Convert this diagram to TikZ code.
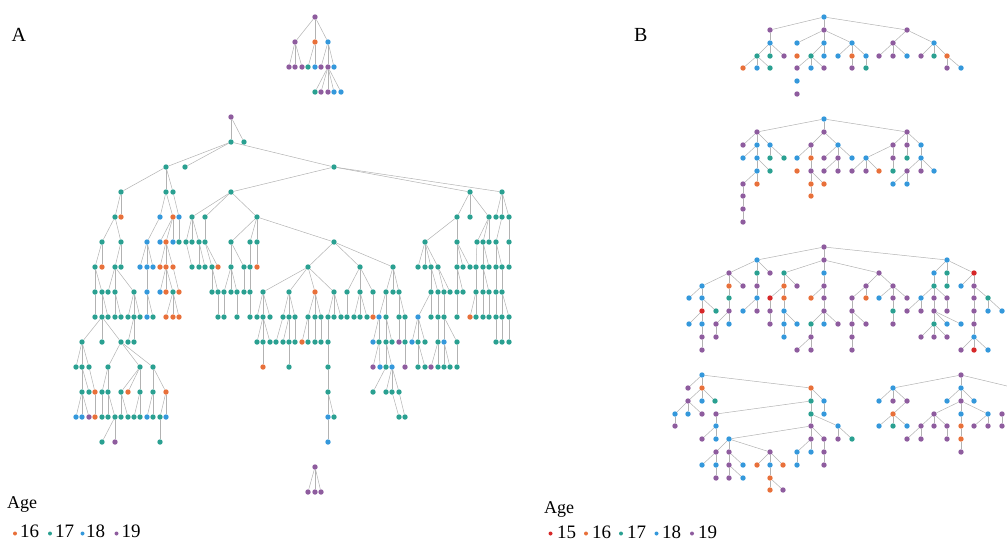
\documentclass[tikz,border=0pt]{standalone}
\usepackage{fontspec}
\usepackage{etoolbox}
\setmainfont{Liberation Serif}
\definecolor{cO}{RGB}{232,112,58}
\definecolor{cT}{RGB}{42,160,145}
\definecolor{cB}{RGB}{52,152,219}
\definecolor{cP}{RGB}{142,92,158}
\definecolor{cR}{RGB}{214,39,40}
\pgfdeclarelayer{bg}
\pgfsetlayers{bg,main}
\tikzset{
  dot/.style={circle,draw=none,minimum size=5.4pt,inner sep=0pt},
  edge/.style={draw=gray!60,line width=0.5pt},
  lg/.style={circle,draw=none,minimum size=4pt,inner sep=0pt},
  lbl/.style={anchor=base west,inner sep=0pt,font=\fontsize{19}{19}\selectfont},
  panel/.style={anchor=base west,inner sep=0pt,font=\fontsize{20}{20}\selectfont}
}
\gdef\edgelist{}
\newcommand\rn[4]{\node[dot,fill=#4] (#1) at (#2,#3) {};}
\newcommand\nd[5]{\node[dot,fill=#4] (#1) at (#2,#3) {};\gappto\edgelist{\draw[edge] (#5) -- (#1);}}
\begin{document}
\begin{tikzpicture}[x=1pt,y=-1pt]
\useasboundingbox (0,0) rectangle (1007,542);
% ---------- labels
\node[panel] (labA) at (11.5,41.5) {A};
\node[panel] (labB) at (634,41.5) {B};
\node[lbl,font=\fontsize{18}{18}\selectfont] (ageA) at (7,508) {Age};
\node[lg,fill=cO] (lA1) at (15,533.5) {}; \node[lbl] (tA1) at (20,537) {16};
\node[lg,fill=cT] (lA2) at (50,533.5) {}; \node[lbl] (tA2) at (55,537) {17};
\node[lg,fill=cB] (lA3) at (82.5,533.5) {}; \node[lbl] (tA3) at (86,537) {18};
\node[lg,fill=cP] (lA4) at (116.5,533.5) {}; \node[lbl] (tA4) at (121.5,537) {19};
\node[lbl,font=\fontsize{18}{18}\selectfont] (ageB) at (544,513) {Age};
\node[lg,fill=cR] (lB0) at (550.5,533.5) {}; \node[lbl] (tB0) at (557,538) {15};
\node[lg,fill=cO] (lB1) at (586,533.5) {}; \node[lbl] (tB1) at (592,538) {16};
\node[lg,fill=cT] (lB2) at (621,533.5) {}; \node[lbl] (tB2) at (627,538) {17};
\node[lg,fill=cB] (lB3) at (656.5,533.5) {}; \node[lbl] (tB3) at (662,538) {18};
\node[lg,fill=cP] (lB4) at (692,533.5) {}; \node[lbl] (tB4) at (698,538) {19};
% ---------- panel A: top small tree
\rn{t0}{315}{17}{cP}
\nd{t1a}{295}{42}{cP}{t0}\nd{t1b}{315}{42}{cO}{t0}\nd{t1c}{328}{42}{cB}{t0}
\nd{t2a}{289}{67}{cP}{t1a}\nd{t2b}{295}{67}{cP}{t1a}\nd{t2c}{302}{67}{cP}{t1a}
\nd{t2d}{308}{67}{cT}{t1b}\nd{t2e}{315}{67}{cB}{t1b}
\nd{t2f}{321}{67}{cP}{t1c}\nd{t2g}{328}{67}{cP}{t1c}\nd{t2h}{334}{67}{cB}{t1c}
\nd{t3a}{315}{92}{cT}{t2g}\nd{t3b}{321}{92}{cP}{t2g}\nd{t3c}{328}{92}{cP}{t2g}\nd{t3d}{334}{92}{cB}{t2g}\nd{t3e}{341}{92}{cB}{t2g}
% ---------- panel A: big tree
\rn{a0}{231}{117}{cP}
\nd{a1x231}{231}{142}{cT}{a0}\nd{a1x244}{244}{142}{cT}{a0}
\nd{a2x166}{166}{167}{cT}{a1x231}\nd{a2x185}{185}{167}{cT}{a1x231}\nd{a2x334}{334}{167}{cT}{a1x231}
\nd{a3x121}{121}{192}{cT}{a2x166}\nd{a3x166}{166}{192}{cT}{a2x166}\nd{a3x173}{173}{192}{cT}{a2x166}
\nd{a3x231}{231}{192}{cT}{a2x334}\nd{a3x470}{470}{192}{cT}{a2x334}\nd{a3x502}{502}{192}{cT}{a2x334}
% L4
\nd{a4x115}{115}{217}{cT}{a3x121}\nd{a4x121}{121}{217}{cO}{a3x121}
\nd{a4x160}{160}{217}{cB}{a3x166}\nd{a4x173}{173}{217}{cO}{a3x166}\nd{a4x179}{179}{217}{cB}{a3x173}
\nd{a4x192}{192}{217}{cT}{a3x231}\nd{a4x205}{205}{217}{cT}{a3x231}\nd{a4x257}{257}{217}{cT}{a3x231}
\nd{a4x457}{457}{217}{cT}{a3x470}\nd{a4x470}{470}{217}{cT}{a3x470}\nd{a4x489}{489}{217}{cT}{a3x470}
\nd{a4x496}{496}{217}{cT}{a3x502}\nd{a4x502}{502}{217}{cT}{a3x502}\nd{a4x509}{509}{217}{cT}{a3x502}
% L5
\nd{a5x102}{102}{242}{cT}{a4x115}\nd{a5x121}{121}{242}{cT}{a4x115}
\nd{a5x147}{147}{242}{cB}{a4x160}\nd{a5x160}{160}{242}{cB}{a4x173}\nd{a5x166}{166}{242}{cO}{a4x173}\nd{a5x173}{173}{242}{cB}{a4x173}
\nd{a5x179}{179}{242}{cT}{a4x179}\nd{a5x186}{186}{242}{cT}{a4x192}\nd{a5x192}{192}{242}{cT}{a4x192}\nd{a5x199}{199}{242}{cT}{a4x192}\nd{a5x205}{205}{242}{cT}{a4x205}
\nd{a5x231}{231}{242}{cT}{a4x257}\nd{a5x250}{250}{242}{cT}{a4x257}\nd{a5x257}{257}{242}{cT}{a4x257}\nd{a5x334}{334}{242}{cT}{a4x257}
\nd{a5x425}{425}{242}{cT}{a4x457}\nd{a5x457}{457}{242}{cT}{a4x457}\nd{a5x477}{477}{242}{cT}{a4x489}\nd{a5x483}{483}{242}{cT}{a4x489}\nd{a5x489}{489}{242}{cT}{a4x489}
\nd{a5x496}{496}{242}{cT}{a4x502}\nd{a5x509}{509}{242}{cT}{a4x509}
% L6
\nd{a6x95}{95}{267}{cT}{a5x102}\nd{a6x102}{102}{267}{cO}{a5x102}\nd{a6x115}{115}{267}{cT}{a5x121}\nd{a6x121}{121}{267}{cT}{a5x121}
\nd{a6x140}{140}{267}{cB}{a5x147}\nd{a6x147}{147}{267}{cB}{a5x147}\nd{a6x153}{153}{267}{cB}{a5x147}
\nd{a6x160}{160}{267}{cO}{a5x166}\nd{a6x166}{166}{267}{cO}{a5x166}\nd{a6x173}{173}{267}{cO}{a5x166}
\nd{a6x192}{192}{267}{cT}{a5x186}\nd{a6x199}{199}{267}{cT}{a5x199}\nd{a6x205}{205}{267}{cT}{a5x199}\nd{a6x212}{212}{267}{cT}{a5x205}\nd{a6x218}{218}{267}{cO}{a5x205}
\nd{a6x231}{231}{267}{cT}{a5x231}\nd{a6x244}{244}{267}{cT}{a5x231}\nd{a6x250}{250}{267}{cT}{a5x250}\nd{a6x257}{257}{267}{cO}{a5x257}
\nd{a6x308}{308}{267}{cT}{a5x334}\nd{a6x360}{360}{267}{cT}{a5x334}\nd{a6x393}{393}{267}{cT}{a5x334}
\nd{a6x418}{418}{267}{cT}{a5x425}\nd{a6x425}{425}{267}{cT}{a5x425}\nd{a6x431}{431}{267}{cT}{a5x425}\nd{a6x438}{438}{267}{cT}{a5x425}
\nd{a6x457}{457}{267}{cT}{a5x457}\nd{a6x463}{463}{267}{cT}{a5x457}\nd{a6x470}{470}{267}{cT}{a5x457}
\nd{a6x476}{476}{267}{cT}{a5x477}\nd{a6x483}{483}{267}{cT}{a5x483}\nd{a6x489}{489}{267}{cT}{a5x483}
\nd{a6x496}{496}{267}{cT}{a5x496}\nd{a6x502}{502}{267}{cT}{a5x496}\nd{a6x509}{509}{267}{cT}{a5x509}
% L7
\nd{a7x95}{95}{292}{cT}{a6x95}\nd{a7x102}{102}{292}{cT}{a6x95}\nd{a7x108}{108}{292}{cT}{a6x115}\nd{a7x115}{115}{292}{cT}{a6x115}\nd{a7x134}{134}{292}{cT}{a6x115}
\nd{a7x147}{147}{292}{cB}{a6x147}\nd{a7x160}{160}{292}{cB}{a6x166}\nd{a7x166}{166}{292}{cO}{a6x166}\nd{a7x173}{173}{292}{cT}{a6x166}\nd{a7x179}{179}{292}{cO}{a6x173}
\nd{a7x212}{212}{292}{cT}{a6x212}\nd{a7x218}{218}{292}{cT}{a6x212}\nd{a7x224}{224}{292}{cT}{a6x231}\nd{a7x231}{231}{292}{cT}{a6x231}\nd{a7x237}{237}{292}{cT}{a6x231}
\nd{a7x244}{244}{292}{cT}{a6x244}\nd{a7x250}{250}{292}{cT}{a6x250}
\nd{a7x263}{263}{292}{cT}{a6x308}\nd{a7x289}{289}{292}{cT}{a6x308}\nd{a7x315}{315}{292}{cO}{a6x308}\nd{a7x334}{334}{292}{cT}{a6x308}
\nd{a7x347}{347}{292}{cT}{a6x360}\nd{a7x360}{360}{292}{cT}{a6x360}\nd{a7x373}{373}{292}{cT}{a6x360}
\nd{a7x386}{386}{292}{cT}{a6x393}\nd{a7x393}{393}{292}{cT}{a6x393}\nd{a7x399}{399}{292}{cT}{a6x393}
\nd{a7x431}{431}{292}{cT}{a6x431}\nd{a7x438}{438}{292}{cT}{a6x431}\nd{a7x444}{444}{292}{cT}{a6x438}\nd{a7x450}{450}{292}{cT}{a6x438}
\nd{a7x457}{457}{292}{cT}{a6x457}\nd{a7x463}{463}{292}{cT}{a6x457}\nd{a7x476}{476}{292}{cT}{a6x476}\nd{a7x483}{483}{292}{cT}{a6x483}\nd{a7x489}{489}{292}{cT}{a6x483}
\nd{a7x496}{496}{292}{cT}{a6x496}\nd{a7x502}{502}{292}{cT}{a6x502}
% L8
\nd{a8x95}{95}{317}{cT}{a7x95}\nd{a8x102}{102}{317}{cT}{a7x102}\nd{a8x108}{108}{317}{cT}{a7x102}\nd{a8x115}{115}{317}{cT}{a7x115}\nd{a8x121}{121}{317}{cT}{a7x115}
\nd{a8x128}{128}{317}{cT}{a7x134}\nd{a8x134}{134}{317}{cT}{a7x134}\nd{a8x140}{140}{317}{cT}{a7x134}\nd{a8x147}{147}{317}{cB}{a7x147}\nd{a8x153}{153}{317}{cT}{a7x147}
\nd{a8x166}{166}{317}{cO}{a7x173}\nd{a8x173}{173}{317}{cO}{a7x173}\nd{a8x179}{179}{317}{cO}{a7x173}
\nd{a8x218}{218}{317}{cT}{a7x218}\nd{a8x224}{224}{317}{cT}{a7x224}\nd{a8x237}{237}{317}{cT}{a7x237}\nd{a8x250}{250}{317}{cT}{a7x250}
\nd{a8x257}{257}{317}{cT}{a7x263}\nd{a8x263}{263}{317}{cT}{a7x263}\nd{a8x270}{270}{317}{cT}{a7x263}
\nd{a8x283}{283}{317}{cT}{a7x289}\nd{a8x289}{289}{317}{cT}{a7x289}\nd{a8x295}{295}{317}{cT}{a7x289}
\nd{a8x308}{308}{317}{cT}{a7x315}\nd{a8x315}{315}{317}{cT}{a7x315}\nd{a8x321}{321}{317}{cT}{a7x315}
\nd{a8x328}{328}{317}{cT}{a7x334}\nd{a8x334}{334}{317}{cT}{a7x334}\nd{a8x341}{341}{317}{cT}{a7x334}
\nd{a8x347}{347}{317}{cT}{a7x347}\nd{a8x354}{354}{317}{cT}{a7x360}\nd{a8x360}{360}{317}{cT}{a7x360}\nd{a8x367}{367}{317}{cT}{a7x360}
\nd{a8x373}{373}{317}{cO}{a7x373}\nd{a8x379}{379}{317}{cB}{a7x386}\nd{a8x386}{386}{317}{cT}{a7x386}
\nd{a8x399}{399}{317}{cT}{a7x399}\nd{a8x405}{405}{317}{cT}{a7x399}\nd{a8x418}{418}{317}{cB}{a7x431}
\nd{a8x431}{431}{317}{cT}{a7x431}\nd{a8x438}{438}{317}{cT}{a7x438}\nd{a8x444}{444}{317}{cT}{a7x444}\nd{a8x457}{457}{317}{cT}{a7x457}
\nd{a8x470}{470}{317}{cO}{a7x476}\nd{a8x476}{476}{317}{cT}{a7x476}\nd{a8x483}{483}{317}{cT}{a7x483}\nd{a8x489}{489}{317}{cT}{a7x489}
\nd{a8x496}{496}{317}{cT}{a7x496}\nd{a8x502}{502}{317}{cT}{a7x502}\nd{a8x509}{509}{317}{cT}{a7x502}
% L9
\nd{a9x82}{82}{342}{cT}{a8x102}\nd{a9x102}{102}{342}{cT}{a8x102}\nd{a9x121}{121}{342}{cT}{a8x102}\nd{a9x128}{128}{342}{cT}{a8x134}\nd{a9x134}{134}{342}{cT}{a8x134}
\nd{a9x257}{257}{342}{cT}{a8x263}\nd{a9x263}{263}{342}{cT}{a8x263}\nd{a9x270}{270}{342}{cT}{a8x263}\nd{a9x276}{276}{342}{cT}{a8x283}
\nd{a9x283}{283}{342}{cT}{a8x289}\nd{a9x289}{289}{342}{cT}{a8x289}\nd{a9x295}{295}{342}{cT}{a8x295}\nd{a9x302}{302}{342}{cO}{a8x308}
\nd{a9x308}{308}{342}{cT}{a8x308}\nd{a9x315}{315}{342}{cT}{a8x315}\nd{a9x321}{321}{342}{cT}{a8x321}\nd{a9x328}{328}{342}{cT}{a8x328}
\nd{a9x373}{373}{342}{cB}{a8x379}\nd{a9x379}{379}{342}{cT}{a8x379}\nd{a9x386}{386}{342}{cT}{a8x386}\nd{a9x392}{392}{342}{cT}{a8x386}
\nd{a9x399}{399}{342}{cP}{a8x399}\nd{a9x405}{405}{342}{cT}{a8x405}\nd{a9x412}{412}{342}{cB}{a8x418}\nd{a9x418}{418}{342}{cT}{a8x418}\nd{a9x425}{425}{342}{cT}{a8x418}
\nd{a9x438}{438}{342}{cT}{a8x438}\nd{a9x444}{444}{342}{cB}{a8x444}\nd{a9x457}{457}{342}{cT}{a8x444}
\nd{a9x496}{496}{342}{cT}{a8x496}\nd{a9x502}{502}{342}{cT}{a8x502}\nd{a9x509}{509}{342}{cT}{a8x509}
% L10
\nd{a10x76}{76}{367}{cT}{a9x82}\nd{a10x82}{82}{367}{cT}{a9x82}\nd{a10x89}{89}{367}{cT}{a9x82}
\nd{a10x108}{108}{367}{cT}{a9x121}\nd{a10x140}{140}{367}{cT}{a9x121}\nd{a10x153}{153}{367}{cT}{a9x121}
\nd{a10x263}{263}{367}{cO}{a9x263}\nd{a10x289}{289}{367}{cT}{a9x289}\nd{a10x328}{328}{367}{cT}{a9x328}
\nd{a10x373}{373}{367}{cP}{a9x379}\nd{a10x380}{380}{367}{cB}{a9x379}\nd{a10x386}{386}{367}{cT}{a9x386}\nd{a10x392}{392}{367}{cB}{a9x386}
\nd{a10x405}{405}{367}{cP}{a9x405}\nd{a10x418}{418}{367}{cT}{a9x418}\nd{a10x425}{425}{367}{cT}{a9x418}\nd{a10x431}{431}{367}{cP}{a9x438}
\nd{a10x438}{438}{367}{cT}{a9x438}\nd{a10x444}{444}{367}{cT}{a9x444}\nd{a10x450}{450}{367}{cT}{a9x444}\nd{a10x457}{457}{367}{cT}{a9x457}
% L11
\nd{a11x82}{82}{392}{cT}{a10x82}\nd{a11x89}{89}{392}{cT}{a10x82}\nd{a11x95}{95}{392}{cO}{a10x89}\nd{a11x102}{102}{392}{cT}{a10x108}\nd{a11x108}{108}{392}{cT}{a10x108}
\nd{a11x121}{121}{392}{cT}{a10x140}\nd{a11x128}{128}{392}{cO}{a10x140}\nd{a11x140}{140}{392}{cT}{a10x140}\nd{a11x153}{153}{392}{cT}{a10x153}\nd{a11x166}{166}{392}{cO}{a10x153}
\nd{a11x328}{328}{392}{cT}{a10x328}
\nd{a11x373}{373}{392}{cT}{a10x386}\nd{a11x386}{386}{392}{cT}{a10x392}\nd{a11x392}{392}{392}{cT}{a10x392}\nd{a11x399}{399}{392}{cT}{a10x392}
% L12
\nd{a12x76}{76}{417}{cB}{a11x82}\nd{a12x82}{82}{417}{cB}{a11x82}\nd{a12x89}{89}{417}{cP}{a11x82}\nd{a12x95}{95}{417}{cO}{a11x95}
\nd{a12x102}{102}{417}{cT}{a11x102}\nd{a12x108}{108}{417}{cT}{a11x108}\nd{a12x115}{115}{417}{cT}{a11x108}\nd{a12x121}{121}{417}{cT}{a11x121}
\nd{a12x128}{128}{417}{cT}{a11x121}\nd{a12x134}{134}{417}{cT}{a11x140}\nd{a12x140}{140}{417}{cT}{a11x140}\nd{a12x147}{147}{417}{cB}{a11x153}
\nd{a12x153}{153}{417}{cT}{a11x153}\nd{a12x160}{160}{417}{cT}{a11x166}\nd{a12x166}{166}{417}{cB}{a11x166}
\nd{a12x328}{328}{417}{cB}{a11x328}\nd{a12x334}{334}{417}{cT}{a11x328}
\nd{a12x399}{399}{417}{cT}{a11x392}\nd{a12x405}{405}{417}{cT}{a11x399}
% L13
\nd{a13x102}{102}{442}{cT}{a12x115}\nd{a13x115}{115}{442}{cP}{a12x115}\nd{a13x160}{160}{442}{cT}{a12x160}\nd{a13x328}{328}{442}{cB}{a12x328}
% bottom small tree
\rn{b0}{315}{467}{cP}
\nd{b1a}{308}{492}{cP}{b0}\nd{b1b}{315}{492}{cP}{b0}\nd{b1c}{321}{492}{cP}{b0}
% ---------- panel B: tree 1
\rn{p0}{824}{17}{cB}
\nd{p1x770}{770}{30}{cP}{p0}\nd{p1x824}{824}{30}{cP}{p0}\nd{p1x907}{907}{30}{cP}{p0}
\nd{p2x770}{770}{43}{cB}{p1x770}\nd{p2x797}{797}{43}{cB}{p1x824}\nd{p2x824}{824}{43}{cB}{p1x824}\nd{p2x852}{852}{43}{cB}{p1x824}
\nd{p2x893}{893}{43}{cP}{p1x907}\nd{p2x934}{934}{43}{cB}{p1x907}
\nd{p3x757}{757}{56}{cT}{p2x770}\nd{p3x770}{770}{56}{cT}{p2x770}\nd{p3x784}{784}{56}{cP}{p2x770}\rn{p3x797}{797}{56}{cO}
\nd{p3x811}{811}{56}{cT}{p2x824}\nd{p3x824}{824}{56}{cB}{p2x824}\nd{p3x838}{838}{56}{cB}{p2x852}\nd{p3x852}{852}{56}{cO}{p2x852}\nd{p3x866}{866}{56}{cB}{p2x852}
\nd{p3x879}{879}{56}{cP}{p2x893}\nd{p3x893}{893}{56}{cP}{p2x893}\nd{p3x907}{907}{56}{cB}{p2x893}
\nd{p3x921}{921}{56}{cP}{p2x934}\nd{p3x934}{934}{56}{cT}{p2x934}\nd{p3x947}{947}{56}{cO}{p2x934}
\nd{p4x743}{743}{68}{cO}{p3x757}\nd{p4x757}{757}{68}{cB}{p3x757}\nd{p4x770}{770}{68}{cT}{p3x757}
\nd{p4x797}{797}{68}{cP}{p3x811}\nd{p4x811}{811}{68}{cB}{p3x811}\nd{p4x824}{824}{68}{cP}{p3x811}
\nd{p4x852}{852}{68}{cP}{p3x852}\nd{p4x866}{866}{68}{cT}{p3x866}\nd{p4x947}{947}{68}{cP}{p3x947}\nd{p4x961}{961}{68}{cB}{p3x947}
\rn{p5x797}{797}{81}{cB}\rn{p6x797}{797}{94}{cP}
% ---------- panel B: tree 2
\rn{q0}{824}{119}{cB}
\nd{q1x757}{757}{132}{cP}{q0}\nd{q1x824}{824}{132}{cP}{q0}\nd{q1x907}{907}{132}{cP}{q0}
\nd{q2x743}{743}{145}{cP}{q1x757}\nd{q2x757}{757}{145}{cB}{q1x757}\nd{q2x770}{770}{145}{cB}{q1x757}
\nd{q2x811}{811}{145}{cP}{q1x824}\nd{q2x838}{838}{145}{cB}{q1x824}
\nd{q2x893}{893}{145}{cP}{q1x907}\nd{q2x907}{907}{145}{cP}{q1x907}\nd{q2x921}{921}{145}{cB}{q1x907}
\nd{q3x743}{743}{158}{cB}{q2x757}\nd{q3x757}{757}{158}{cB}{q2x757}\nd{q3x770}{770}{158}{cT}{q2x770}\nd{q3x784}{784}{158}{cT}{q2x770}
\nd{q3x797}{797}{158}{cB}{q2x811}\nd{q3x811}{811}{158}{cO}{q2x811}\nd{q3x824}{824}{158}{cP}{q2x838}\nd{q3x838}{838}{158}{cP}{q2x838}\nd{q3x852}{852}{158}{cB}{q2x838}
\nd{q3x866}{866}{158}{cB}{q2x893}\nd{q3x893}{893}{158}{cP}{q2x893}\nd{q3x907}{907}{158}{cT}{q2x907}\nd{q3x921}{921}{158}{cB}{q2x921}
\nd{q4x757}{757}{171}{cB}{q3x757}\nd{q4x770}{770}{171}{cT}{q3x757}\rn{q4x797}{797}{171}{cO}\nd{q4x811}{811}{171}{cP}{q3x811}
\nd{q4x824}{824}{171}{cP}{q3x838}\nd{q4x838}{838}{171}{cP}{q3x838}\nd{q4x852}{852}{171}{cP}{q3x866}\nd{q4x866}{866}{171}{cP}{q3x866}\nd{q4x879}{879}{171}{cO}{q3x866}
\nd{q4x893}{893}{171}{cT}{q3x893}\nd{q4x907}{907}{171}{cP}{q3x921}\nd{q4x921}{921}{171}{cP}{q3x921}\nd{q4x934}{934}{171}{cB}{q3x921}
\nd{q5x743}{743}{184}{cP}{q4x757}\nd{q5x757}{757}{184}{cO}{q4x757}\nd{q5x811}{811}{184}{cO}{q4x811}\nd{q5x824}{824}{184}{cO}{q4x811}
\nd{q5x893}{893}{184}{cB}{q4x907}\nd{q5x907}{907}{184}{cB}{q4x907}
\nd{q6x743}{743}{196}{cP}{q5x743}\nd{q6x811}{811}{196}{cO}{q5x811}
\nd{q7x743}{743}{209}{cP}{q6x743}\nd{q8x743}{743}{222}{cP}{q7x743}
% ---------- panel B: tree 3
\rn{r0}{824}{247}{cP}
\nd{r1x757}{757}{260}{cB}{r0}\nd{r1x824}{824}{260}{cP}{r0}\nd{r1x947}{947}{260}{cB}{r0}
\nd{r2x729}{729}{273}{cP}{r1x757}\nd{r2x757}{757}{273}{cT}{r1x757}\nd{r2x770}{770}{273}{cP}{r1x757}
\nd{r2x784}{784}{273}{cT}{r1x824}\nd{r2x824}{824}{273}{cB}{r1x824}\nd{r2x879}{879}{273}{cP}{r1x824}
\nd{r2x934}{934}{273}{cB}{r1x947}\nd{r2x947}{947}{273}{cT}{r1x947}\nd{r2x974}{974}{273}{cR}{r1x947}
\nd{r3x702}{702}{286}{cB}{r2x729}\nd{r3x729}{729}{286}{cO}{r2x729}\nd{r3x743}{743}{286}{cP}{r2x729}\nd{r3x757}{757}{286}{cP}{r2x757}
\nd{r3x784}{784}{286}{cO}{r2x784}\nd{r3x797}{797}{286}{cP}{r2x784}\nd{r3x824}{824}{286}{cP}{r2x824}
\nd{r3x866}{866}{286}{cP}{r2x879}\nd{r3x893}{893}{286}{cP}{r2x879}\nd{r3x934}{934}{286}{cT}{r2x934}\nd{r3x947}{947}{286}{cT}{r2x947}
\nd{r3x961}{961}{286}{cB}{r2x974}\nd{r3x974}{974}{286}{cP}{r2x974}
\nd{r4x689}{689}{298}{cB}{r3x702}\nd{r4x702}{702}{298}{cB}{r3x702}\nd{r4x729}{729}{298}{cT}{r3x729}\nd{r4x757}{757}{298}{cB}{r3x757}
\nd{r4x770}{770}{298}{cR}{r3x784}\nd{r4x784}{784}{298}{cO}{r3x784}\nd{r4x811}{811}{298}{cO}{r3x824}\nd{r4x824}{824}{298}{cP}{r3x824}
\nd{r4x852}{852}{298}{cP}{r3x866}\nd{r4x866}{866}{298}{cO}{r3x866}\nd{r4x879}{879}{298}{cB}{r3x893}\nd{r4x893}{893}{298}{cP}{r3x893}\nd{r4x907}{907}{298}{cP}{r3x893}
\nd{r4x921}{921}{298}{cB}{r3x934}\nd{r4x934}{934}{298}{cP}{r3x934}\nd{r4x947}{947}{298}{cP}{r3x934}\nd{r4x974}{974}{298}{cP}{r3x974}\nd{r4x988}{988}{298}{cT}{r3x974}
\nd{r5x702}{702}{311}{cR}{r4x702}\nd{r5x716}{716}{311}{cT}{r4x702}\nd{r5x729}{729}{311}{cP}{r4x729}\nd{r5x743}{743}{311}{cB}{r4x757}\nd{r5x757}{757}{311}{cP}{r4x757}
\nd{r5x770}{770}{311}{cP}{r4x770}\nd{r5x784}{784}{311}{cB}{r4x784}\nd{r5x824}{824}{311}{cP}{r4x824}\nd{r5x852}{852}{311}{cP}{r4x852}
\nd{r5x893}{893}{311}{cT}{r4x893}\nd{r5x907}{907}{311}{cP}{r4x921}\nd{r5x921}{921}{311}{cP}{r4x921}\nd{r5x934}{934}{311}{cP}{r4x934}\nd{r5x947}{947}{311}{cP}{r4x947}
\nd{r5x974}{974}{311}{cP}{r4x974}\nd{r5x988}{988}{311}{cB}{r4x988}\nd{r5x1002}{1002}{311}{cB}{r4x988}
\nd{r6x689}{689}{324}{cB}{r5x702}\nd{r6x702}{702}{324}{cB}{r5x702}\nd{r6x716}{716}{324}{cP}{r5x729}\nd{r6x729}{729}{324}{cB}{r5x729}
\nd{r6x770}{770}{324}{cP}{r5x770}\nd{r6x784}{784}{324}{cB}{r5x784}\nd{r6x797}{797}{324}{cB}{r5x784}
\nd{r6x811}{811}{324}{cT}{r5x824}\nd{r6x824}{824}{324}{cB}{r5x824}\nd{r6x838}{838}{324}{cP}{r5x824}
\nd{r6x852}{852}{324}{cP}{r5x852}\nd{r6x866}{866}{324}{cP}{r5x852}\nd{r6x893}{893}{324}{cP}{r5x893}
\nd{r6x934}{934}{324}{cT}{r5x934}\nd{r6x947}{947}{324}{cB}{r5x934}\nd{r6x961}{961}{324}{cB}{r5x934}\nd{r6x974}{974}{324}{cP}{r5x974}
\nd{r7x702}{702}{337}{cP}{r6x702}\nd{r7x716}{716}{337}{cP}{r6x716}\nd{r7x784}{784}{337}{cB}{r6x784}\nd{r7x811}{811}{337}{cP}{r6x811}\nd{r7x852}{852}{337}{cP}{r6x852}
\nd{r7x921}{921}{337}{cP}{r6x934}\nd{r7x934}{934}{337}{cP}{r6x934}\nd{r7x947}{947}{337}{cP}{r6x934}\nd{r7x974}{974}{337}{cB}{r6x974}
\nd{r8x702}{702}{350}{cP}{r7x702}\nd{r8x797}{797}{350}{cP}{r7x811}\nd{r8x811}{811}{350}{cP}{r7x811}\nd{r8x852}{852}{350}{cP}{r7x852}
\nd{r8x961}{961}{350}{cP}{r7x974}\nd{r8x974}{974}{350}{cR}{r7x974}\nd{r8x988}{988}{350}{cB}{r7x974}
% ---------- panel B: tree 4
\rn{s0}{702}{375}{cB}
\nd{s1x688}{688}{388}{cP}{s0}\nd{s1x702}{702}{388}{cO}{s0}\nd{s1x811}{811}{388}{cO}{s0}
\nd{s2x688}{688}{401}{cP}{s1x702}\nd{s2x702}{702}{401}{cB}{s1x702}\nd{s2x715}{715}{401}{cT}{s1x702}\nd{s2x811}{811}{401}{cT}{s1x811}\nd{s2x824}{824}{401}{cB}{s1x811}
\nd{s3x675}{675}{414}{cB}{s2x688}\nd{s3x688}{688}{414}{cB}{s2x688}\nd{s3x702}{702}{414}{cP}{s2x688}\nd{s3x716}{716}{414}{cP}{s2x811}
\nd{s3x811}{811}{414}{cT}{s2x811}\nd{s3x824}{824}{414}{cB}{s2x824}
\nd{s4x675}{675}{426}{cP}{s3x675}\nd{s4x716}{716}{426}{cB}{s3x716}\nd{s4x811}{811}{426}{cP}{s3x811}\nd{s4x838}{838}{426}{cB}{s3x811}
\nd{s5x702}{702}{439}{cP}{s4x716}\nd{s5x716}{716}{439}{cB}{s4x716}\nd{s5x729}{729}{439}{cB}{s4x811}\nd{s5x811}{811}{439}{cP}{s4x811}
\nd{s5x824}{824}{439}{cP}{s4x811}\nd{s5x838}{838}{439}{cP}{s4x838}\nd{s5x852}{852}{439}{cT}{s4x838}
\nd{s6x716}{716}{452}{cP}{s5x729}\nd{s6x729}{729}{452}{cP}{s5x729}\nd{s6x770}{770}{452}{cP}{s5x729}
\nd{s6x797}{797}{452}{cB}{s5x811}\nd{s6x811}{811}{452}{cB}{s5x811}\nd{s6x824}{824}{452}{cP}{s5x824}
\nd{s7x702}{702}{465}{cB}{s6x716}\nd{s7x716}{716}{465}{cB}{s6x716}\nd{s7x729}{729}{465}{cP}{s6x729}\nd{s7x743}{743}{465}{cB}{s6x729}
\nd{s7x757}{757}{465}{cO}{s6x770}\nd{s7x770}{770}{465}{cB}{s6x770}\nd{s7x783}{783}{465}{cO}{s6x770}\nd{s7x797}{797}{465}{cB}{s6x797}\nd{s7x824}{824}{465}{cP}{s6x824}
\nd{s8x716}{716}{478}{cP}{s7x716}\nd{s8x729}{729}{478}{cP}{s7x729}\nd{s8x743}{743}{478}{cB}{s7x729}\nd{s8x770}{770}{478}{cO}{s7x770}
\nd{s9x770}{770}{490}{cO}{s8x770}\nd{s9x783}{783}{490}{cP}{s8x770}
% ---------- panel B: tree 5
\rn{u0}{961}{375}{cP}
\coordinate (uedge) at (1007,386);
\gappto\edgelist{\draw[edge] (u0) -- (uedge);}
\nd{u1x893}{893}{388}{cB}{u0}\nd{u1x961}{961}{388}{cB}{u0}
\nd{u2x879}{879}{401}{cB}{u1x893}\nd{u2x893}{893}{401}{cP}{u1x893}\nd{u2x907}{907}{401}{cP}{u1x893}
\nd{u2x947}{947}{401}{cB}{u1x961}\nd{u2x961}{961}{401}{cP}{u1x961}\nd{u2x974}{974}{401}{cB}{u1x961}
\nd{u3x893}{893}{414}{cO}{u2x907}\nd{u3x934}{934}{414}{cP}{u2x961}\nd{u3x961}{961}{414}{cB}{u2x961}\nd{u3x988}{988}{414}{cB}{u2x961}\rn{u3x1002}{1002}{414}{cP}
\nd{u4x879}{879}{426}{cB}{u3x893}\nd{u4x893}{893}{426}{cT}{u3x893}\nd{u4x907}{907}{426}{cB}{u3x893}
\nd{u4x921}{921}{426}{cP}{u3x934}\nd{u4x934}{934}{426}{cP}{u3x934}\nd{u4x947}{947}{426}{cP}{u3x934}\nd{u4x961}{961}{426}{cO}{u3x961}
\nd{u4x974}{974}{426}{cP}{u3x988}\nd{u4x988}{988}{426}{cP}{u3x988}\nd{u4x1002}{1002}{426}{cP}{u3x1002}
\nd{u5x907}{907}{439}{cP}{u4x921}\nd{u5x921}{921}{439}{cP}{u4x921}\nd{u5x947}{947}{439}{cP}{u4x947}\nd{u5x961}{961}{439}{cO}{u4x961}
\nd{u6x961}{961}{452}{cP}{u5x961}
% ---------- all connectors, behind the dots
\begin{pgfonlayer}{bg}
\edgelist
\end{pgfonlayer}
\end{tikzpicture}
\end{document}
